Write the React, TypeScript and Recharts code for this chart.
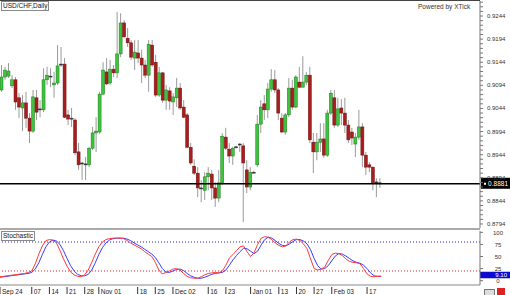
import React from 'react'
import { ComposedChart, Bar, Line, XAxis, YAxis, ReferenceLine } from 'recharts'

// USD/CHF daily, 24 Sep 2013 .. 21 Feb 2014, one value per trading day
const open = [
  0.9084, 0.9112, 0.9114, 0.9093, 0.9106, 0.9067, 0.9045, 0.9056, 0.9023, 0.8995,
  0.9067, 0.9043, 0.9041, 0.9106, 0.9114, 0.9095, 0.9099, 0.9138, 0.9140, 0.9030,
  0.9023, 0.9019, 0.8950, 0.8926, 0.8924, 0.8922, 0.8958, 0.8991, 0.8993, 0.9075,
  0.9123, 0.9099, 0.9129, 0.9121, 0.9162, 0.9229, 0.9196, 0.9186, 0.9153, 0.9164,
  0.9153, 0.9138, 0.9116, 0.9181, 0.9144, 0.9073, 0.9121, 0.9062, 0.9082, 0.9058,
  0.9067, 0.9088, 0.9047, 0.9030, 0.8960, 0.8919, 0.8904, 0.8872, 0.8867, 0.8896,
  0.8902, 0.8872, 0.8850, 0.8883, 0.8982, 0.8956, 0.8941, 0.8960, 0.8967, 0.8963,
  0.8911, 0.8874, 0.8906, 0.8922, 0.9010, 0.9054, 0.9041, 0.9086, 0.9106, 0.9084,
  0.9023, 0.8993, 0.9030, 0.9088, 0.9047, 0.9101, 0.9090, 0.9101, 0.9116, 0.8971,
  0.8950, 0.8971, 0.8978, 0.8943, 0.9034, 0.9067, 0.9008, 0.9045, 0.9034, 0.9008,
  0.8993, 0.8967, 0.8982, 0.9004, 0.8943, 0.8922, 0.8917, 0.8885, 0.8883,
]
const high = [
  0.9138, 0.9134, 0.9142, 0.9116, 0.9112, 0.9077, 0.9073, 0.9080, 0.9034, 0.9084,
  0.9084, 0.9062, 0.9131, 0.9134, 0.9131, 0.9123, 0.9181, 0.9177, 0.9153, 0.9041,
  0.9045, 0.9023, 0.8969, 0.8928, 0.8939, 0.8961, 0.9004, 0.9025, 0.9080, 0.9144,
  0.9153, 0.9149, 0.9138, 0.9253, 0.9250, 0.9235, 0.9218, 0.9192, 0.9192, 0.9192,
  0.9171, 0.9149, 0.9192, 0.9192, 0.9160, 0.9134, 0.9123, 0.9095, 0.9090, 0.9077,
  0.9110, 0.9099, 0.9062, 0.9034, 0.8969, 0.8934, 0.8917, 0.8889, 0.8906, 0.8917,
  0.8911, 0.8885, 0.8911, 0.8991, 0.9002, 0.8969, 0.8961, 0.8963, 0.8969, 0.8969,
  0.8932, 0.8917, 0.8909, 0.9030, 0.9062, 0.9073, 0.9099, 0.9129, 0.9127, 0.9088,
  0.9034, 0.9034, 0.9110, 0.9106, 0.9116, 0.9134, 0.9157, 0.9123, 0.9134, 0.8991,
  0.8991, 0.9012, 0.9012, 0.9041, 0.9084, 0.9084, 0.9067, 0.9064, 0.9067, 0.9019,
  0.9002, 0.8991, 0.9041, 0.9012, 0.8950, 0.8928, 0.8918, 0.8893, 0.8893,
]
const low = [
  0.9080, 0.9106, 0.9110, 0.9088, 0.9041, 0.9023, 0.8995, 0.9002, 0.8969, 0.8991,
  0.9019, 0.9025, 0.9036, 0.9095, 0.9090, 0.9067, 0.9095, 0.9134, 0.9023, 0.9008,
  0.9004, 0.8943, 0.8911, 0.8889, 0.8889, 0.8917, 0.8954, 0.8950, 0.8989, 0.9073,
  0.9095, 0.9095, 0.9112, 0.9110, 0.9155, 0.9196, 0.9177, 0.9149, 0.9127, 0.9142,
  0.9099, 0.9110, 0.9080, 0.9134, 0.9069, 0.9069, 0.9056, 0.9041, 0.9041, 0.9030,
  0.9047, 0.9041, 0.9023, 0.8958, 0.8922, 0.8900, 0.8852, 0.8841, 0.8846, 0.8867,
  0.8846, 0.8831, 0.8841, 0.8878, 0.8954, 0.8926, 0.8922, 0.8958, 0.8950, 0.8798,
  0.8861, 0.8867, 0.8904, 0.8917, 0.8991, 0.9019, 0.9023, 0.9080, 0.9077, 0.9019,
  0.8991, 0.8987, 0.9025, 0.9041, 0.9045, 0.9088, 0.9090, 0.9095, 0.8969, 0.8904,
  0.8932, 0.8950, 0.8937, 0.8939, 0.9030, 0.9002, 0.9004, 0.9008, 0.8991, 0.8969,
  0.8965, 0.8939, 0.8976, 0.8917, 0.8900, 0.8906, 0.8867, 0.8852, 0.8872,
]
const close = [
  0.9112, 0.9127, 0.9125, 0.9106, 0.9058, 0.9047, 0.9056, 0.9023, 0.8995, 0.9069,
  0.9036, 0.9041, 0.9106, 0.9116, 0.9113, 0.9099, 0.9136, 0.9140, 0.9025, 0.9021,
  0.9022, 0.8948, 0.8922, 0.8925, 0.8923, 0.8958, 0.8991, 0.8995, 0.9075, 0.9127,
  0.9097, 0.9129, 0.9121, 0.9162, 0.9229, 0.9199, 0.9186, 0.9155, 0.9166, 0.9153,
  0.9138, 0.9116, 0.9183, 0.9138, 0.9073, 0.9121, 0.9062, 0.9084, 0.9060, 0.9069,
  0.9088, 0.9045, 0.9025, 0.8960, 0.8926, 0.8904, 0.8872, 0.8871, 0.8896, 0.8904,
  0.8872, 0.8850, 0.8883, 0.8984, 0.8958, 0.8941, 0.8958, 0.8961, 0.8965, 0.8926,
  0.8874, 0.8906, 0.8905, 0.9010, 0.9047, 0.9041, 0.9086, 0.9106, 0.9084, 0.9034,
  0.8993, 0.9030, 0.9088, 0.9047, 0.9112, 0.9090, 0.9101, 0.9116, 0.8976, 0.8950,
  0.8971, 0.8978, 0.8943, 0.9034, 0.9077, 0.9008, 0.9043, 0.9034, 0.9008, 0.8976,
  0.8980, 0.8982, 0.9004, 0.8943, 0.8917, 0.8917, 0.8883, 0.8884, 0.8881,
]
// stochastic %K (red) and %D (blue)
const stochK = [
  8, 9, 10, 11, 12, 13, 14, 15, 17, 20,
  35, 55, 72, 83, 85, 84, 78, 62, 45, 30,
  18, 12, 9, 8, 12, 22, 38, 55, 70, 80,
  85, 87, 88, 88, 88, 87, 83, 78, 74, 70,
  66, 60, 55, 50, 38, 22, 14, 17, 20, 24,
  25, 22, 15, 9, 6, 5, 5, 8, 12, 15,
  16, 17, 16, 20, 32, 47, 54, 62, 70, 72,
  60, 50, 58, 75, 88, 91, 90, 85, 78, 73,
  70, 72, 80, 85, 86, 83, 76, 66, 45, 25,
  22, 24, 28, 42, 54, 57, 56, 52, 45, 40,
  38, 37, 35, 25, 14, 9, 8, 9, 9.1,
]
const stochD = [
  7, 8, 9, 10, 11, 12, 13, 14, 15, 17,
  24, 37, 54, 70, 80, 84, 82, 75, 62, 46,
  31, 20, 13, 10, 10, 13, 22, 37, 54, 68,
  78, 84, 87, 88, 88, 88, 86, 83, 78, 74,
  70, 65, 60, 55, 48, 37, 25, 18, 17, 20,
  23, 24, 21, 15, 10, 7, 5, 5, 7, 10,
  13, 15, 16, 17, 22, 32, 43, 52, 60, 67,
  66, 61, 56, 61, 74, 85, 90, 88, 83, 77,
  73, 72, 76, 81, 85, 85, 82, 76, 64, 46,
  31, 24, 25, 31, 41, 51, 56, 55, 51, 46,
  41, 38, 36, 32, 25, 16, 10, 9, 9,
]
const dateTickIdx = [0, 9, 14, 19, 24, 28, 39, 44, 49, 59, 64, 71, 79, 84, 89, 94, 104]
const dateTickLabels = ['Sep 24', '07', '14', '21', '28', 'Nov 01', '18', '25', 'Dec 02', '16', '23', 'Jan 01', '13', '20', '27', 'Feb 03', '17']
const priceTicks = [0.9244, 0.9194, 0.9144, 0.9094, 0.9044, 0.8994, 0.8944, 0.8894, 0.8844, 0.8794]
const stochTicks = [100, 75, 50, 25, 0]
const lastPrice = 0.8881
const lastStoch = 9.1

const SLOTS = 137 // day slots across the plot; the right part stays empty
const PRICE_DOMAIN: [number, number] = [0.87853, 0.92765]
const STOCH_DOMAIN: [number, number] = [-9, 102.8]
const FONT = '"Liberation Sans", Arial, sans-serif'

const minorTicks = Array.from({ length: 49 }, (_, k) => Math.round((0.8794 + k * 0.001) * 10000) / 10000)

const rows = Array.from({ length: SLOTS }, (_, i) =>
  i < close.length
    ? { i, o: open[i], h: high[i], l: low[i], c: close[i], k: stochK[i], d: stochD[i] }
    : { i }
)

function Candle(props: any) {
  const { x, y, width, height, payload } = props
  if (!payload || payload.c == null || !(height > 0)) return null
  const { o, h, l, c } = payload
  const k = height / (h - l)
  const at = (v: number) => y + (h - v) * k
  const mid = x + width / 2
  const top = at(Math.max(o, c))
  const bodyH = Math.max(at(Math.min(o, c)) - top, 1)
  const flat = Math.abs(c - o) < 0.00025
  const fill = flat ? '#333' : c > o ? '#3cc43c' : '#a81e1e'
  const edge = flat ? '#333' : c > o ? '#1f7a1f' : '#6a1010'
  return (
    <g>
      <line x1={mid} x2={mid} y1={y} y2={y + height} stroke="#9a9a9a" strokeWidth={1} />
      <rect x={x} y={top} width={width} height={bodyH} fill={fill} stroke={edge} strokeWidth={0.5} />
    </g>
  )
}

function PriceTick({ x, y, payload }: any) {
  if (!priceTicks.includes(payload.value)) return null
  return (
    <text x={x} y={y + 2} fontSize={6} fill="#333" fontFamily={FONT}>
      {payload.value.toFixed(4)}
    </text>
  )
}

function StochTick({ x, y, payload }: any) {
  return (
    <text x={x + 13} y={y + 2.5} fontSize={6} fill="#333" fontFamily={FONT} textAnchor="middle">
      {payload.value}
    </text>
  )
}

function DateTick({ x, y, payload }: any) {
  const n = dateTickIdx.indexOf(payload.value)
  if (n < 0) return null
  return (
    <g>
      <line x1={x} x2={x} y1={y + 2} y2={y + 9} stroke="#333" strokeWidth={1} />
      <text x={x + 2} y={y + 8.5} fontSize={6.5} fill="#222" fontFamily={FONT}>
        {dateTickLabels[n]}
      </text>
    </g>
  )
}

function PriceTag({ viewBox }: any) {
  if (!viewBox) return null
  const left = viewBox.x + viewBox.width
  const y = viewBox.y
  return (
    <g>
      <rect x={left + 1} y={y - 6} width={30} height={11} fill="#000" />
      <rect x={left + 4} y={y - 1} width={2} height={2} fill="#fff" />
      <text x={left + 28} y={y + 2.5} fontSize={6.5} fill="#fff" textAnchor="end" fontFamily={FONT}>
        {lastPrice.toFixed(4)}
      </text>
    </g>
  )
}

function StochTag({ viewBox }: any) {
  if (!viewBox) return null
  const left = viewBox.x + viewBox.width
  const y = viewBox.y
  return (
    <g>
      <rect x={left} y={y - 4.5} width={30} height={6.5} fill="#0a0ad0" />
      <text x={left + 27} y={y + 1.2} fontSize={6} fill="#fff" textAnchor="end" fontFamily={FONT}>
        {lastStoch.toFixed(2)}
      </text>
    </g>
  )
}

const boxLabel: React.CSSProperties = {
  position: 'absolute',
  fontFamily: FONT,
  fontSize: 6.5,
  lineHeight: '8px',
  color: '#111',
  background: '#fff',
  border: '1px solid #888',
  padding: '0 1px',
  whiteSpace: 'nowrap',
}

export default function App() {
  return (
    <div style={{ position: 'absolute', left: 0, top: 0, width: 510, height: 295, background: '#fff', overflow: 'hidden' }}>
      <ComposedChart width={510} height={228} data={rows} margin={{ top: 1, right: 0, bottom: 0, left: 0 }}>
        <XAxis dataKey="i" hide />
        <YAxis
          yAxisId="L"
          orientation="left"
          mirror
          width={0}
          domain={PRICE_DOMAIN}
          allowDataOverflow
          ticks={minorTicks}
          interval={0}
          tick={false}
          tickSize={2}
          axisLine={false}
          tickLine={{ stroke: '#888' }}
        />
        <YAxis
          yAxisId="R"
          orientation="right"
          width={30}
          domain={PRICE_DOMAIN}
          allowDataOverflow
          ticks={minorTicks}
          interval={0}
          tick={<PriceTick />}
          tickSize={3}
          tickMargin={4}
          axisLine={{ stroke: '#777' }}
          tickLine={{ stroke: '#777' }}
        />
        <Bar
          yAxisId="R"
          dataKey={(r: any) => (r.c == null ? null : [r.l, r.h])}
          barSize={3}
          shape={<Candle />}
          isAnimationActive={false}
        />
        <ReferenceLine yAxisId="R" y={lastPrice} stroke="#000" strokeWidth={1.5} label={<PriceTag />} />
      </ComposedChart>

      <ComposedChart width={510} height={65} data={rows} margin={{ top: 1, right: 0, bottom: 0, left: 0 }} style={{ position: 'absolute', left: 0, top: 230 }}>
        <XAxis
          dataKey="i"
          height={10}
          ticks={dateTickIdx}
          interval={0}
          tick={<DateTick />}
          tickLine={false}
          tickSize={0}
          tickMargin={0}
          axisLine={{ stroke: '#888' }}
        />
        <YAxis
          orientation="right"
          width={30}
          domain={STOCH_DOMAIN}
          allowDataOverflow
          ticks={stochTicks}
          interval={0}
          tick={<StochTick />}
          tickSize={3}
          tickMargin={2}
          axisLine={{ stroke: '#777' }}
          tickLine={{ stroke: '#777' }}
        />
        <ReferenceLine y={80} stroke="#2222cc" strokeDasharray="1 2" />
        <ReferenceLine y={20} stroke="#ee2222" strokeDasharray="1 2" />
        <Line dataKey="d" stroke="#3a3aff" strokeWidth={1} dot={false} isAnimationActive={false} />
        <Line dataKey="k" stroke="#ff3a3a" strokeWidth={1} dot={false} isAnimationActive={false} />
        <ReferenceLine y={lastStoch} stroke="none" label={<StochTag />} />
      </ComposedChart>

      <div style={{ position: 'absolute', left: 0, top: 0, width: 480, height: 1, background: '#444' }} />
      <div style={{ position: 'absolute', left: 0, top: 228, width: 480, height: 2, background: '#aaa' }} />
      <div style={{ ...boxLabel, left: 1, top: 1 }}>USD/CHF,Daily</div>
      <div style={{ ...boxLabel, left: 1, top: 231 }}>Stochastic</div>
      <div style={{ position: 'absolute', left: 418, top: 3, fontFamily: FONT, fontSize: 6.5, color: '#333', whiteSpace: 'nowrap' }}>
        Powered by XTick
      </div>
      <div style={{ position: 'absolute', left: 484, top: 289, width: 9, height: 5, border: '1px solid #777', background: '#ddd' }} />
      <div style={{ position: 'absolute', left: 497, top: 288, width: 8, height: 7, background: '#dd2222' }} />
    </div>
  )
}
